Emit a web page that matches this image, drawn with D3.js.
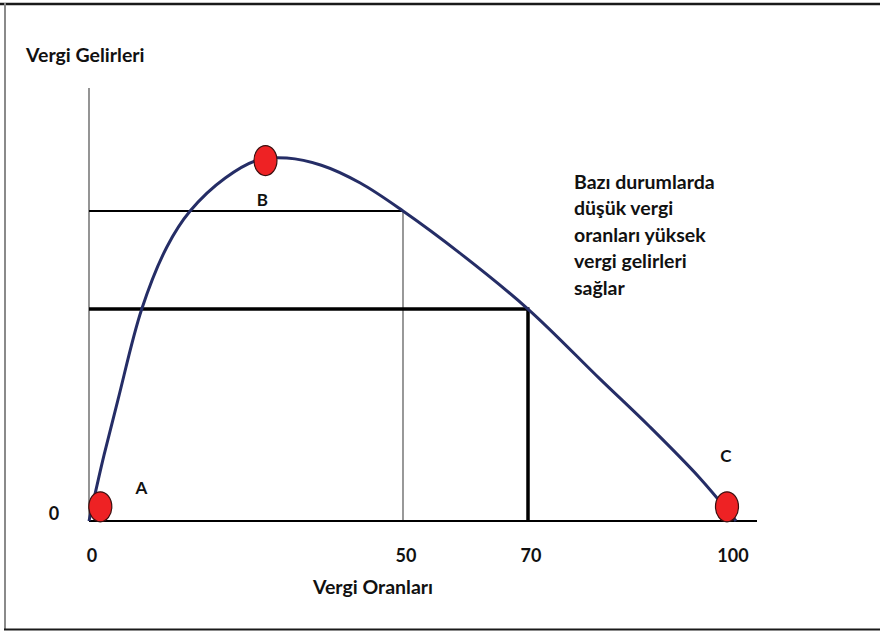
<!DOCTYPE html>
<html>
<head>
<meta charset="utf-8">
<script src="https://cdn.jsdelivr.net/npm/d3@7"></script>
<style>
  html, body { margin: 0; padding: 0; background: #fff; }
  svg { display: block; font-family: Lato, "Open Sans", sans-serif; font-weight: bold; }
</style>
</head>
<body>
<div id="chart"></div>
<script>
// tax rate (%) vs tax revenue (peak = 100)
const rates = [0, 1.1, 2.4, 4.6, 8.4, 12.4, 16.1, 21.7, 27.0, 31.5, 37.0, 43.2, 50, 59.1, 70, 80.4, 87.6, 94.8, 100];
const revenue = [0, 8.5, 18.2, 33.3, 58.4, 75.5, 85.4, 94.5, 99.5, 100, 98.0, 93.1, 85.4, 73.8, 58.4, 39.1, 25.9, 11.8, 0];

const xTicks = [0, 50, 70, 100];
const pointNames = ['A', 'B', 'C'];
const pointRates = [1.8, 28.1, 98.7];
const pointRevenue = [3.9, 99.3, 3.9];

// the two reference rates and the revenue they give
const guideRates = [50, 70];
const guideRevenue = [85.4, 58.4];

const noteLines = ['Bazı durumlarda', 'düşük vergi', 'oranları yüksek', 'vergi gelirleri', 'sağlar'];

const width = 880, height = 631;

const svg = d3.select('#chart').append('svg')
  .attr('width', width)
  .attr('height', height);

// frame: top, left, bottom (no right edge in the original)
svg.append('line').attr('x1', 0).attr('x2', width).attr('y1', 4).attr('y2', 4)
  .attr('stroke', '#1a1a1a').attr('stroke-width', 2.5);
svg.append('line').attr('x1', 5).attr('x2', 5).attr('y1', 3).attr('y2', 630)
  .attr('stroke', '#8a8a8a').attr('stroke-width', 2);
svg.append('line').attr('x1', 4).attr('x2', width).attr('y1', 629.5).attr('y2', 629.5)
  .attr('stroke', '#1a1a1a').attr('stroke-width', 2);

// the drawing is not to scale on the x axis, so use a piecewise scale
const x = d3.scaleLinear().domain(xTicks).range([89, 403, 528, 736]);
const y = d3.scaleLinear().domain([0, 100]).range([521, 158]);

// y axis
svg.append('line')
  .attr('x1', x(0)).attr('x2', x(0))
  .attr('y1', 88).attr('y2', y(0))
  .attr('stroke', '#7a7a7a').attr('stroke-width', 1.6);

// guide lines
const g = svg.append('g').attr('stroke', '#000');
g.append('line')
  .attr('x1', x(0)).attr('x2', x(guideRates[0]))
  .attr('y1', y(guideRevenue[0])).attr('y2', y(guideRevenue[0]))
  .attr('stroke-width', 1.8);
g.append('line')
  .attr('x1', x(guideRates[0])).attr('x2', x(guideRates[0]))
  .attr('y1', y(guideRevenue[0])).attr('y2', y(0))
  .attr('stroke', '#444').attr('stroke-width', 1.1);
g.append('line')
  .attr('x1', x(0)).attr('x2', x(guideRates[1]) + 1.5)
  .attr('y1', y(guideRevenue[1])).attr('y2', y(guideRevenue[1]))
  .attr('stroke-width', 3.5);
g.append('line')
  .attr('x1', x(guideRates[1])).attr('x2', x(guideRates[1]))
  .attr('y1', y(guideRevenue[1])).attr('y2', y(0))
  .attr('stroke-width', 3.5);

// x axis
svg.append('line')
  .attr('x1', x(0)).attr('x2', 757)
  .attr('y1', y(0)).attr('y2', y(0))
  .attr('stroke', '#000').attr('stroke-width', 2);

// Laffer curve
const line = d3.line()
  .x((d, i) => x(rates[i]))
  .y((d, i) => y(revenue[i]))
  .curve(d3.curveCatmullRom.alpha(0.5));

svg.append('path')
  .datum(rates)
  .attr('d', line)
  .attr('fill', 'none')
  .attr('stroke', '#252d66')
  .attr('stroke-width', 3);

// points A, B, C
svg.selectAll('ellipse.pt')
  .data(pointNames)
  .join('ellipse')
  .attr('class', 'pt')
  .attr('cx', (d, i) => x(pointRates[i]))
  .attr('cy', (d, i) => y(pointRevenue[i]))
  .attr('rx', 11.5)
  .attr('ry', 15)
  .attr('fill', '#ee2224')
  .attr('stroke', '#3a1010')
  .attr('stroke-width', 1.2);

const labelOffsets = [[41, -13], [-3, 45], [-1, -45]];
svg.selectAll('text.pt')
  .data(pointNames)
  .join('text')
  .attr('class', 'pt')
  .attr('x', (d, i) => x(pointRates[i]) + labelOffsets[i][0])
  .attr('y', (d, i) => y(pointRevenue[i]) + labelOffsets[i][1])
  .attr('text-anchor', 'middle')
  .attr('font-size', 17)
  .attr('fill', '#111')
  .text(d => d);

// tick labels
svg.selectAll('text.tick')
  .data(xTicks)
  .join('text')
  .attr('class', 'tick')
  .attr('x', d => x(d) + (d === 0 ? 3 : d === 100 ? -3 : 3))
  .attr('y', 562)
  .attr('text-anchor', 'middle')
  .attr('font-size', 18)
  .attr('fill', '#111')
  .text(d => d);

svg.append('text')
  .attr('x', 54).attr('y', 520)
  .attr('text-anchor', 'middle')
  .attr('font-size', 18)
  .attr('fill', '#111')
  .text('0');

// axis titles
svg.append('text')
  .attr('x', 26).attr('y', 62)
  .attr('font-size', 19.5)
  .attr('fill', '#111')
  .text('Vergi Gelirleri');

svg.append('text')
  .attr('x', 373).attr('y', 594)
  .attr('text-anchor', 'middle')
  .attr('font-size', 19.5)
  .attr('fill', '#111')
  .text('Vergi Oranları');

// note
svg.append('g')
  .selectAll('text')
  .data(noteLines)
  .join('text')
  .attr('x', 574)
  .attr('y', (d, i) => 189 + i * 26.4)
  .attr('font-size', 19.5)
  .attr('fill', '#111')
  .text(d => d);
</script>
</body>
</html>
